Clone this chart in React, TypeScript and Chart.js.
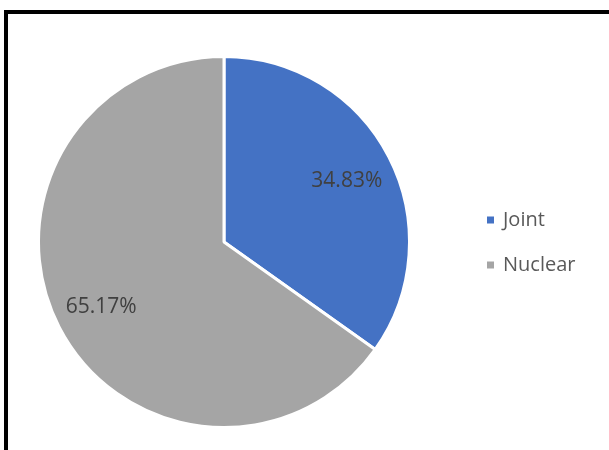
import React, { useEffect, useRef } from "react";
import { Chart, registerables } from "chart.js";

Chart.register(...registerables);

const categories = ["Joint", "Nuclear"];
const shares = [34.83, 65.17];
const colors = ["#4472C4", "#A5A5A5"];

const FONT = "'Open Sans', 'Noto Sans', sans-serif";

const labelPlugin = {
  id: "sliceLabels",
  afterDatasetsDraw(chart: any) {
    const ctx = chart.ctx;
    const meta = chart.getDatasetMeta(0);
    ctx.save();
    ctx.font = `21px ${FONT}`;
    ctx.fillStyle = "#404040";
    ctx.textAlign = "center";
    ctx.textBaseline = "middle";
    meta.data.forEach((arc: any, i: number) => {
      const { x, y, startAngle, endAngle, outerRadius } = arc.getProps(
        ["x", "y", "startAngle", "endAngle", "outerRadius"],
        true
      );
      const mid = (startAngle + endAngle) / 2;
      const r = outerRadius * 0.745;
      const v = chart.data.datasets[0].data[i] as number;
      ctx.fillText(v.toFixed(2) + "%", x + Math.cos(mid) * r, y + Math.sin(mid) * r + 2);
    });
    ctx.restore();
  },
};

const legendPlugin = {
  id: "sideLegend",
  afterDraw(chart: any) {
    const ctx = chart.ctx;
    const labels = chart.data.labels as string[];
    const bg = chart.data.datasets[0].backgroundColor as string[];
    const x0 = 487;
    const yC = 242.5;
    const gap = 45;
    const startY = yC - ((labels.length - 1) * gap) / 2;
    ctx.save();
    ctx.font = `20px ${FONT}`;
    ctx.textBaseline = "middle";
    ctx.textAlign = "left";
    labels.forEach((lab, i) => {
      const y = startY + i * gap;
      ctx.fillStyle = bg[i];
      ctx.fillRect(x0, y - 3.5, 7, 7);
      ctx.fillStyle = "#595959";
      ctx.fillText(lab, x0 + 16, y);
    });
    ctx.restore();
  },
};

export default function App() {
  const ref = useRef<HTMLCanvasElement | null>(null);
  useEffect(() => {
    if (!ref.current) return;
    const chart = new Chart(ref.current, {
      type: "pie",
      data: {
        labels: categories,
        datasets: [
          {
            data: shares,
            backgroundColor: colors,
            borderColor: "#ffffff",
            borderWidth: 3,
          },
        ],
      },
      options: {
        animation: false,
        responsive: false,
        maintainAspectRatio: false,
        layout: { padding: { left: 37, right: 198, top: 55, bottom: 21 } },
        plugins: {
          legend: { display: false },
          tooltip: { enabled: false },
        },
      },
      plugins: [labelPlugin, legendPlugin],
    });
    return () => chart.destroy();
  }, []);
  return (
    <div style={{ position: "fixed", left: 0, top: 0, width: 609, height: 450, background: "#fff" }}>
      <canvas ref={ref} width={609} height={450} style={{ position: "absolute", left: 0, top: 0 }} />
      <div
        style={{
          position: "absolute",
          left: 4,
          top: 10,
          width: 620,
          height: 460,
          borderTop: "4px solid #000",
          borderLeft: "4px solid #000",
          pointerEvents: "none",
        }}
      />
    </div>
  );
}
